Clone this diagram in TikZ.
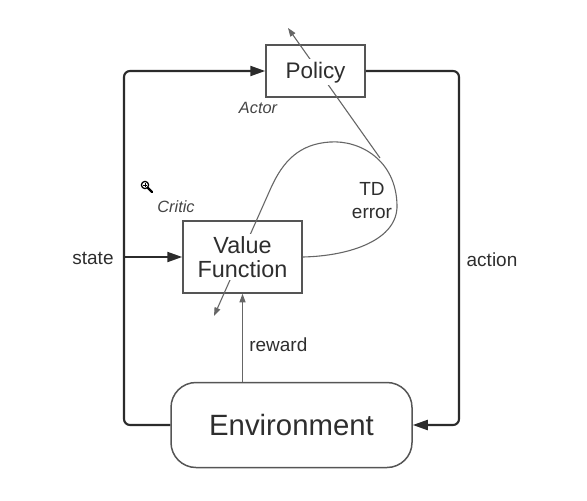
\documentclass[tikz,border=0pt]{standalone}
\usepackage{fontspec}
\setmainfont{Liberation Sans}
\usetikzlibrary{arrows.meta}
\definecolor{txt}{HTML}{2E2E2E}
\definecolor{loopc}{HTML}{2B2B2B}
\definecolor{boxgray}{HTML}{555555}
\definecolor{thinc}{HTML}{666666}
\definecolor{itc}{HTML}{444444}
\begin{document}
\begin{tikzpicture}[x=0.2mm,y=-0.2mm,
  box/.style={draw=boxgray, line width=0.3mm, inner sep=0pt},
  boxtext/.style={fill=white, text=txt, inner sep=1.5pt, align=center, anchor=base},
  loopline/.style={draw=loopc, line width=0.42mm, rounded corners=1.2mm},
  bigtip/.style={-{Triangle[length=3mm,width=2mm]}},
  thinline/.style={draw=thinc, line width=0.22mm},
  thintip/.style={-{Triangle[length=1.7mm,width=1.2mm]}},
  lab/.style={text=txt, font=\fontsize{10.8}{13}\selectfont, inner sep=0pt, anchor=base},
  rolelab/.style={text=itc, font=\fontsize{9.3}{11}\selectfont\itshape, inner sep=0pt, anchor=base}
  ]
\useasboundingbox (0,0) rectangle (587,500);

% boxes (unfilled, so the crossing lines show inside)
\node[box, minimum width=19.8mm, minimum height=10.4mm] (pol) at (315.5,71) {};
\node[box, minimum width=23.8mm, minimum height=14.4mm] (vf) at (242.5,257) {};
\node[box, rounded corners=5mm, minimum width=48.2mm, minimum height=17mm] (env) at (291.5,425) {};

% named free ends
\coordinate (lc) at (124,71);
\coordinate (rc) at (459,250);
\coordinate (tdtip) at (214,316);
\coordinate (poltip) at (288,28);
\coordinate (branch) at (380,158);

% TD error loop
\draw[thinline, thintip] (vf.east)
  .. controls (350,256) and (398,240) .. (397,205)
  .. controls (396,160) and (360,140) .. (330,142)
  .. controls (300,144) and (283,160) .. (270,190)
  -- (tdtip);
\draw[thinline, thintip] (branch) -- (poltip);

% reward
\draw[thinline, thintip] (vf.south |- env.north) -- (vf.south);

% main loop
\draw[loopline, bigtip] (env.west) -| (lc) -- (pol.west);
\draw[loopline, bigtip] (vf.west -| lc) -- (vf.west);
\draw[loopline, bigtip] (pol.east) -| (rc) |- (env.east);

% box texts
\node[boxtext, font=\fontsize{12.8}{14}\selectfont] (polt) at (315.5,78) {Policy};
\node[boxtext, font=\fontsize{13.3}{13.6}\selectfont] (vft) at (242.5,277) {Value\\Function};
\node[text=txt, font=\fontsize{16.7}{19}\selectfont, inner sep=0pt, anchor=base] (envt) at (291.5,435) {Environment};

% labels
\node[lab] (statel) at (93,264) {state};
\node[lab] (actionl) at (492,266) {action};
\node[lab, anchor=base west] (rewardl) at (249,351) {reward};
\node[lab, align=center] (tdl) at (372,218) {TD\\error};
\node[rolelab] (actorl) at (258,113) {Actor};
\node[rolelab] (criticl) at (176,212) {Critic};

% magnifier icon
\draw[black, line width=0.25mm] (145,185) circle (3.6);
\draw[black, line width=0.2mm] (143,185) -- (147,185) (145,183) -- (145,187);
\draw[black, line width=0.45mm, line cap=round] (147.8,187.8) -- (152,192);
\end{tikzpicture}
\end{document}
